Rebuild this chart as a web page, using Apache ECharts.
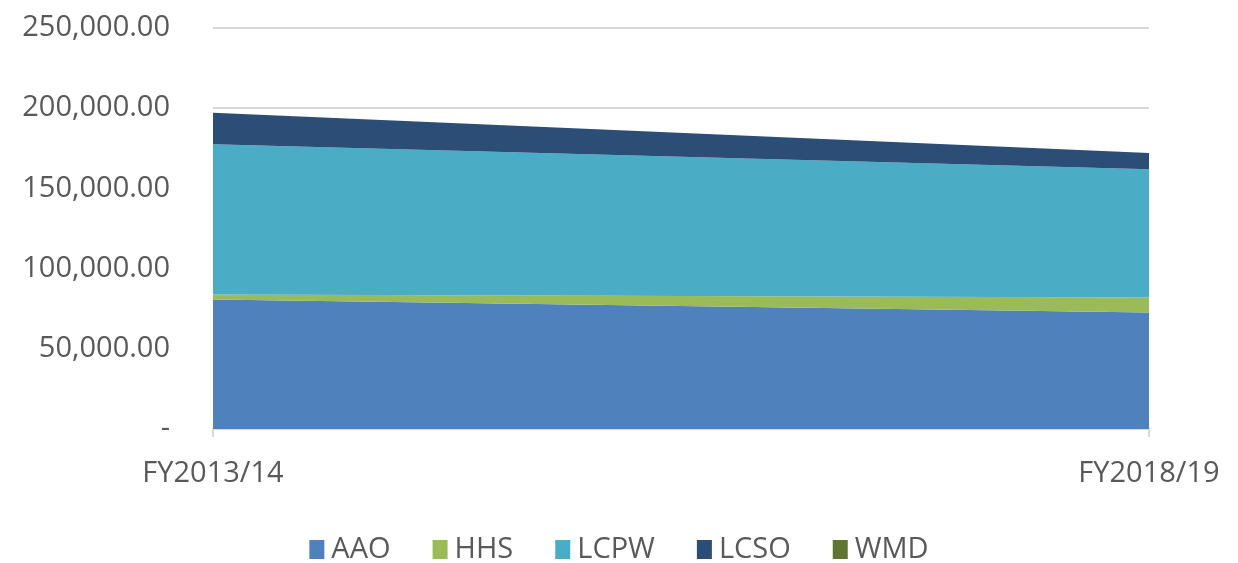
<!DOCTYPE html>
<html>
<head>
<meta charset="utf-8">
<script src="https://cdn.jsdelivr.net/npm/echarts@6/dist/echarts.min.js"></script>
<style>
  html, body { margin: 0; padding: 0; background: #fff; }
  #chart { width: 1238px; height: 563px; }
</style>
</head>
<body>
<div id="chart"></div>
<script>
// data
const years = ['FY2013/14', 'FY2018/19'];
const aao = [80700, 72700];
const hhs = [3200, 9300];
const lcpw = [93700, 80000];
const lcso = [19600, 10000];
const wmd = [0, 0];

const names = ['AAO', 'HHS', 'LCPW', 'LCSO', 'WMD'];
const values = [aao, hhs, lcpw, lcso, wmd];
const colors = ['#4f81bd', '#9bbb59', '#4bacc6', '#2c4d75', '#5f7530'];

const chart = echarts.init(document.getElementById('chart'));

const series = names.map((n, i) => ({
  name: n,
  type: 'line',
  stack: 'total',
  data: values[i],
  showSymbol: false,
  lineStyle: { width: 0 },
  areaStyle: { color: colors[i], opacity: 1 },
  itemStyle: { color: colors[i] }
}));

chart.setOption({
  animation: false,
  textStyle: { fontFamily: 'Open Sans', color: '#595959' },
  grid: { left: 213, right: 89, top: 28, bottom: 134 },
  legend: {
    top: 530,
    left: 'center',
    icon: 'rect',
    itemWidth: 15,
    itemHeight: 19,
    itemGap: 42,
    textStyle: { fontSize: 29, color: '#595959', fontFamily: 'Open Sans', padding: [0, 0, 0, 2] },
    data: names
  },
  xAxis: {
    type: 'category',
    boundaryGap: false,
    data: years,
    axisLine: { lineStyle: { color: '#d9d9d9', width: 2 } },
    axisTick: { show: true, length: 8, lineStyle: { color: '#d9d9d9', width: 2 } },
    axisLabel: { fontSize: 29, color: '#595959', margin: 30 }
  },
  yAxis: {
    type: 'value',
    min: 0,
    max: 250000,
    interval: 50000,
    axisLine: { show: false },
    axisTick: { show: false },
    splitLine: { lineStyle: { color: '#d9d9d9', width: 2 } },
    axisLabel: {
      fontSize: 29,
      color: '#595959',
      margin: 43,
      formatter: v => v === 0 ? '-' : v.toLocaleString('en-US', { minimumFractionDigits: 2, maximumFractionDigits: 2 })
    }
  },
  series: series
});
</script>
</body>
</html>
